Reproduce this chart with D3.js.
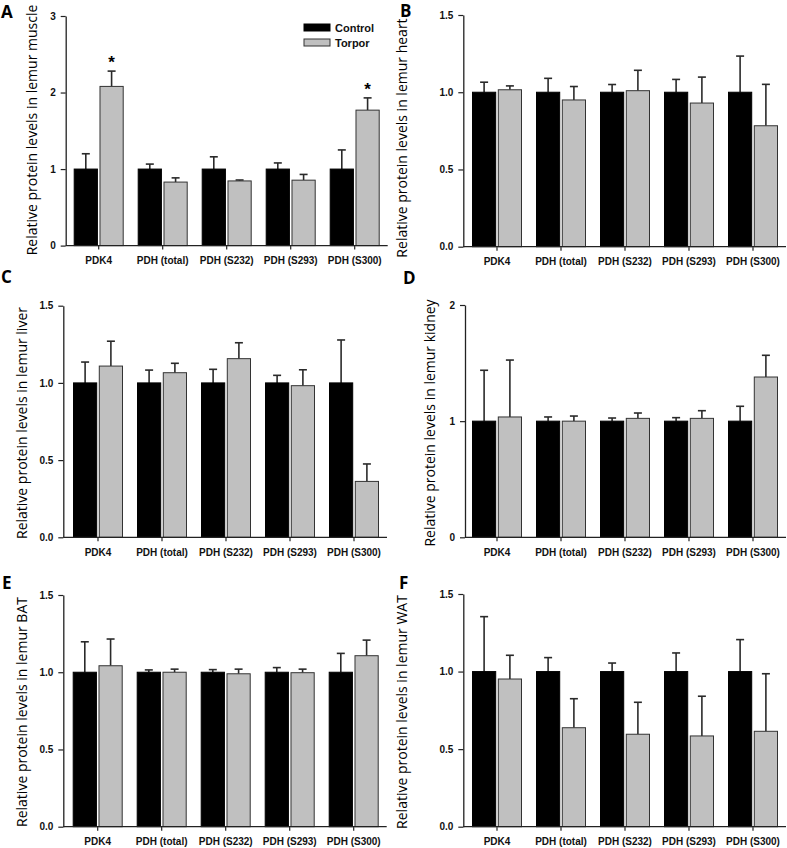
<!DOCTYPE html>
<html>
<head>
<meta charset="utf-8">
<script src="https://cdn.jsdelivr.net/npm/d3@7"></script>
<style>
  body { margin: 0; background: #fff; }
  svg { display: block; }
  .tick text { font-family: "Liberation Sans", Arial, sans-serif; font-weight: bold; font-size: 10px; fill: #111; }
  .ylab { font-family: "Open Sans", sans-serif; font-size: 14px; fill: #000; }
  .plabel { font-family: "Open Sans", sans-serif; font-weight: bold; font-size: 17px; fill: #000; }
  .legend text { font-family: "Liberation Sans", Arial, sans-serif; font-weight: bold; font-size: 11px; fill: #111; }
</style>
</head>
<body>
<svg id="fig" width="787" height="848"></svg>
<script>
// categories shared by all six panels
var categories = ["PDK4", "PDH (total)", "PDH (S232)", "PDH (S293)", "PDH (S300)"];
var series = ["Control", "Torpor"];
var controlMean = [1, 1, 1, 1, 1];

// muscle
var muscleControlSE = [0.20, 0.065, 0.16, 0.08, 0.25];
var muscleTorpor = [2.08, 0.83, 0.845, 0.855, 1.77];
var muscleTorporSE = [0.20, 0.055, 0.012, 0.075, 0.16];
var muscleStars = [1, 0, 0, 0, 1];
// heart
var heartControlSE = [0.065, 0.09, 0.05, 0.083, 0.234];
var heartTorpor = [1.016, 0.95, 1.01, 0.93, 0.783];
var heartTorporSE = [0.025, 0.087, 0.132, 0.168, 0.268];
// liver
var liverControlSE = [0.135, 0.083, 0.088, 0.049, 0.278];
var liverTorpor = [1.109, 1.066, 1.157, 0.982, 0.362];
var liverTorporSE = [0.161, 0.061, 0.103, 0.103, 0.113];
// kidney
var kidneyControlSE = [0.438, 0.036, 0.027, 0.03, 0.128];
var kidneyTorpor = [1.036, 1.0, 1.024, 1.024, 1.38];
var kidneyTorporSE = [0.49, 0.044, 0.046, 0.066, 0.187];
// brown adipose
var batControlSE = [0.197, 0.015, 0.017, 0.03, 0.122];
var batTorpor = [1.042, 1.0, 0.99, 0.997, 1.107];
var batTorporSE = [0.173, 0.02, 0.03, 0.023, 0.101];
// white adipose
var watControlSE = [0.354, 0.09, 0.055, 0.12, 0.206];
var watTorpor = [0.952, 0.638, 0.596, 0.585, 0.615];
var watTorporSE = [0.153, 0.187, 0.206, 0.256, 0.371];

var yTicksA = [0, 1, 2, 3];
var yTicksHalf = [0, 0.5, 1.0, 1.5];
var yTicksD = [0, 1, 2];

var panels = [
  {letter: "A", tissue: "muscle", torpor: muscleTorpor, tSE: muscleTorporSE, cSE: muscleControlSE, stars: muscleStars,
   ymax: 3, ticks: yTicksA, fmt: "d", ax: 65.7, bx: 66.7, top: 16, bot: 245.6, labx: 32, laby: 130, lx: 1, ly: 18, legend: true},
  {letter: "B", tissue: "heart", torpor: heartTorpor, tSE: heartTorporSE, cSE: heartControlSE,
   ymax: 1.5, ticks: yTicksHalf, fmt: ".1f", ax: 463.3, bx: 465, top: 15, bot: 246.7, labx: 402, laby: 138, lx: 400, ly: 17},
  {letter: "C", tissue: "liver", torpor: liverTorpor, tSE: liverTorporSE, cSE: liverControlSE,
   ymax: 1.5, ticks: yTicksHalf, fmt: ".1f", ax: 63.3, bx: 66, top: 305.7, bot: 537.3, labx: 22, laby: 423, lx: 1, ly: 283},
  {letter: "D", tissue: "kidney", torpor: kidneyTorpor, tSE: kidneyTorporSE, cSE: kidneyControlSE,
   ymax: 2, ticks: yTicksD, fmt: "d", ax: 465, bx: 465, top: 305, bot: 537.3, labx: 430, laby: 423, lx: 403, ly: 284},
  {letter: "E", tissue: "BAT", torpor: batTorpor, tSE: batTorporSE, cSE: batControlSE,
   ymax: 1.5, ticks: yTicksHalf, fmt: ".1f", ax: 63.3, bx: 65.7, top: 595, bot: 826.7, labx: 22, laby: 712, lx: 2, ly: 589},
  {letter: "F", tissue: "WAT", torpor: watTorpor, tSE: watTorporSE, cSE: watControlSE,
   ymax: 1.5, ticks: yTicksHalf, fmt: ".1f", ax: 463.3, bx: 465, top: 594, bot: 826.7, labx: 402, laby: 712, lx: 399, ly: 589}
];

var svg = d3.select("#fig");
var fill = d3.scaleOrdinal().domain(series).range(["#000000", "#c0c0c0"]);
var edge = d3.scaleOrdinal().domain(series).range(["#000000", "#333333"]);

panels.forEach(function(p) {
  var g = svg.append("g");
  var x = d3.scaleBand().domain(categories).range([p.bx, p.bx + 320]);
  var x1 = d3.scaleBand().domain(series).range([-24.5, 24.5]).paddingInner(0.1);
  var y = d3.scaleLinear().domain([0, p.ymax]).range([p.bot, p.top]);

  var rows = categories.map(function(c, i) {
    return {cat: c, vals: [
      {s: "Control", v: controlMean[i], e: p.cSE[i]},
      {s: "Torpor", v: p.torpor[i], e: p.tSE[i]}
    ], star: p.stars ? p.stars[i] : 0};
  });

  var grp = g.selectAll(".grp").data(rows).enter().append("g")
    .attr("transform", function(d) { return "translate(" + (x(d.cat) + x.bandwidth() / 2) + ",0)"; });

  // error bars (upper half only, drawn under the bars)
  var eb = grp.selectAll(".eb").data(function(d) { return d.vals; }).enter().append("g")
    .attr("stroke", "#2a2a2a").attr("stroke-width", 1.6);
  eb.append("line")
    .attr("x1", function(d) { return x1(d.s) + x1.bandwidth() / 2; })
    .attr("x2", function(d) { return x1(d.s) + x1.bandwidth() / 2; })
    .attr("y1", function(d) { return y(d.v); })
    .attr("y2", function(d) { return y(d.v + d.e); });
  eb.append("line")
    .attr("x1", function(d) { return x1(d.s) + x1.bandwidth() / 2 - 4; })
    .attr("x2", function(d) { return x1(d.s) + x1.bandwidth() / 2 + 4; })
    .attr("y1", function(d) { return y(d.v + d.e); })
    .attr("y2", function(d) { return y(d.v + d.e); });

  grp.selectAll("rect").data(function(d) { return d.vals; }).enter().append("rect")
    .attr("x", function(d) { return x1(d.s); })
    .attr("width", x1.bandwidth())
    .attr("y", function(d) { return y(d.v); })
    .attr("height", function(d) { return y(0) - y(d.v); })
    .attr("fill", function(d) { return fill(d.s); })
    .attr("stroke", function(d) { return edge(d.s); })
    .attr("stroke-width", 1);

  // significance stars
  grp.filter(function(d) { return d.star; }).append("text")
    .attr("x", x1("Torpor") + x1.bandwidth() / 2)
    .attr("y", function(d) { return y(d.vals[1].v + d.vals[1].e) - 3; })
    .attr("text-anchor", "middle")
    .style("font-family", "Liberation Sans, Arial, sans-serif")
    .style("font-weight", "bold").style("font-size", "17px")
    .text("*");

  // axes
  var yAxis = d3.axisLeft(y).tickValues(p.ticks).tickFormat(d3.format(p.fmt))
    .tickSize(5).tickSizeOuter(0).tickPadding(5);
  var yg = g.append("g").attr("transform", "translate(" + p.ax + ",0)").call(yAxis);
  yg.select(".domain").attr("stroke", "#222").attr("stroke-width", 1.3);
  yg.selectAll(".tick line").attr("stroke", "#222").attr("stroke-width", 1.2);

  var xAxis = d3.axisBottom(x).tickSize(4).tickSizeOuter(0).tickPadding(7.5);
  var xg = g.append("g").attr("transform", "translate(0," + p.bot + ")").call(xAxis);
  xg.select(".domain").remove();
  xg.selectAll(".tick line").attr("stroke", "#222").attr("stroke-width", 1.2);
  xg.append("line").attr("x1", p.ax).attr("x2", p.bx + 321)
    .attr("stroke", "#222").attr("stroke-width", 1.3);

  // y label
  g.append("text").attr("class", "ylab")
    .attr("transform", "translate(" + p.labx + "," + p.laby + ") rotate(-90)")
    .attr("text-anchor", "middle").attr("dy", "0.35em")
    .text("Relative protein levels in lemur " + p.tissue);

  g.append("text").attr("class", "plabel").attr("x", p.lx).attr("y", p.ly).text(p.letter);

  if (p.legend) {
    var lg = g.append("g").attr("class", "legend").attr("transform", "translate(304,24)");
    var item = lg.selectAll("g").data(series).enter().append("g")
      .attr("transform", function(d, i) { return "translate(0," + i * 15 + ")"; });
    item.append("rect").attr("width", 26).attr("height", 7)
      .attr("fill", function(d) { return fill(d); })
      .attr("stroke", function(d) { return edge(d); });
    item.append("text").attr("x", 31).attr("y", 8).text(function(d) { return d; });
  }
});
</script>
</body>
</html>
